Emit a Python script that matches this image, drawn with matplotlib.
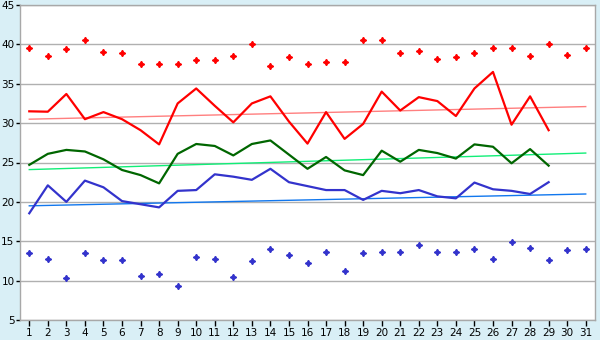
import numpy as np
import matplotlib
matplotlib.use("Agg")
import matplotlib.pyplot as plt

# data
days = list(range(1, 32))
line_days = list(range(1, 30))

max_pts = [39.5, 38.5, 39.4, 40.5, 39.0, 38.9, 37.5, 37.5, 37.5, 38.0,
           38.0, 38.5, 40.0, 37.2, 38.4, 37.5, 37.8, 37.7, 40.5, 40.6,
           38.9, 39.1, 38.2, 38.4, 38.9, 39.6, 39.6, 38.5, 40.0, 38.6, 39.6]
min_pts = [13.5, 12.7, 10.3, 13.5, 12.6, 12.6, 10.55, 10.9, 9.3, 13.0,
           12.7, 10.4, 12.45, 14.0, 13.2, 12.3, 13.6, 11.2, 13.5, 13.6,
           13.6, 14.55, 13.6, 13.6, 14.0, 12.7, 14.9, 14.2, 12.6, 13.85, 14.0]

red_line = [31.5, 31.45, 33.7, 30.5, 31.4, 30.5, 29.1, 27.3, 32.5, 34.4,
            32.2, 30.1, 32.5, 33.4, 30.2, 27.4, 31.4, 28.0, 29.9, 34.0,
            31.6, 33.3, 32.8, 30.9, 34.4, 36.5, 29.8, 33.4, 29.1]
green_line = [24.7, 26.1, 26.6, 26.4, 25.4, 24.05, 23.4, 22.35, 26.1, 27.35,
              27.1, 25.9, 27.35, 27.8, 26.0, 24.2, 25.7, 24.0, 23.4, 26.5,
              25.1, 26.6, 26.2, 25.5, 27.3, 27.0, 24.9, 26.7, 24.6]
blue_line = [18.55, 22.1, 20.0, 22.7, 21.85, 20.1, 19.7, 19.3, 21.4, 21.5,
             23.5, 23.2, 22.8, 24.2, 22.5, 22.0, 21.5, 21.5, 20.25, 21.4,
             21.1, 21.5, 20.7, 20.45, 22.45, 21.6, 21.4, 21.0, 22.5]

# trend lines, end points
trend_days = [1, 31]
red_trend = [30.5, 32.1]
green_trend = [24.1, 26.2]
blue_trend = [19.5, 21.0]

bg = '#d9eff6'
fig = plt.figure(figsize=(6, 3.4), dpi=100, facecolor=bg)
ax = fig.add_axes([20 / 600, 20 / 340, 575 / 600, 315 / 340])
ax.set_facecolor('white')

ax.plot(trend_days, red_trend, color='#ff7f7f', lw=1.0)
ax.plot(trend_days, green_trend, color='#11ee77', lw=1.0)
ax.plot(trend_days, blue_trend, color='#1177ee', lw=1.0)

ax.plot(line_days, red_line, color='#ff0000', lw=1.6)
ax.plot(line_days, green_line, color='#006600', lw=1.6)
ax.plot(line_days, blue_line, color='#3333cc', lw=1.6)

ax.plot(days, max_pts, ls='none', marker=(4, 1, 0), ms=4.5, color='#ff0000')
ax.plot(days, min_pts, ls='none', marker=(4, 1, 0), ms=4.5, color='#3333cc')

ax.set_xlim(0.5, 31.5)
ax.set_ylim(5, 45)
ax.set_xticks(days)
ax.set_yticks(range(5, 46, 5))
ax.tick_params(axis='x', labelsize=7.5, length=4, width=1, color='black', pad=2)
ax.tick_params(axis='y', labelsize=7.5, length=3, width=1, color='black', pad=1)
ax.yaxis.grid(True, color='#b0b0b0', lw=1)
ax.set_axisbelow(True)
for s in ax.spines.values():
    s.set_color('#a8a8a8')
    s.set_linewidth(1)

plt.savefig('out.png', dpi=100, facecolor=bg)
